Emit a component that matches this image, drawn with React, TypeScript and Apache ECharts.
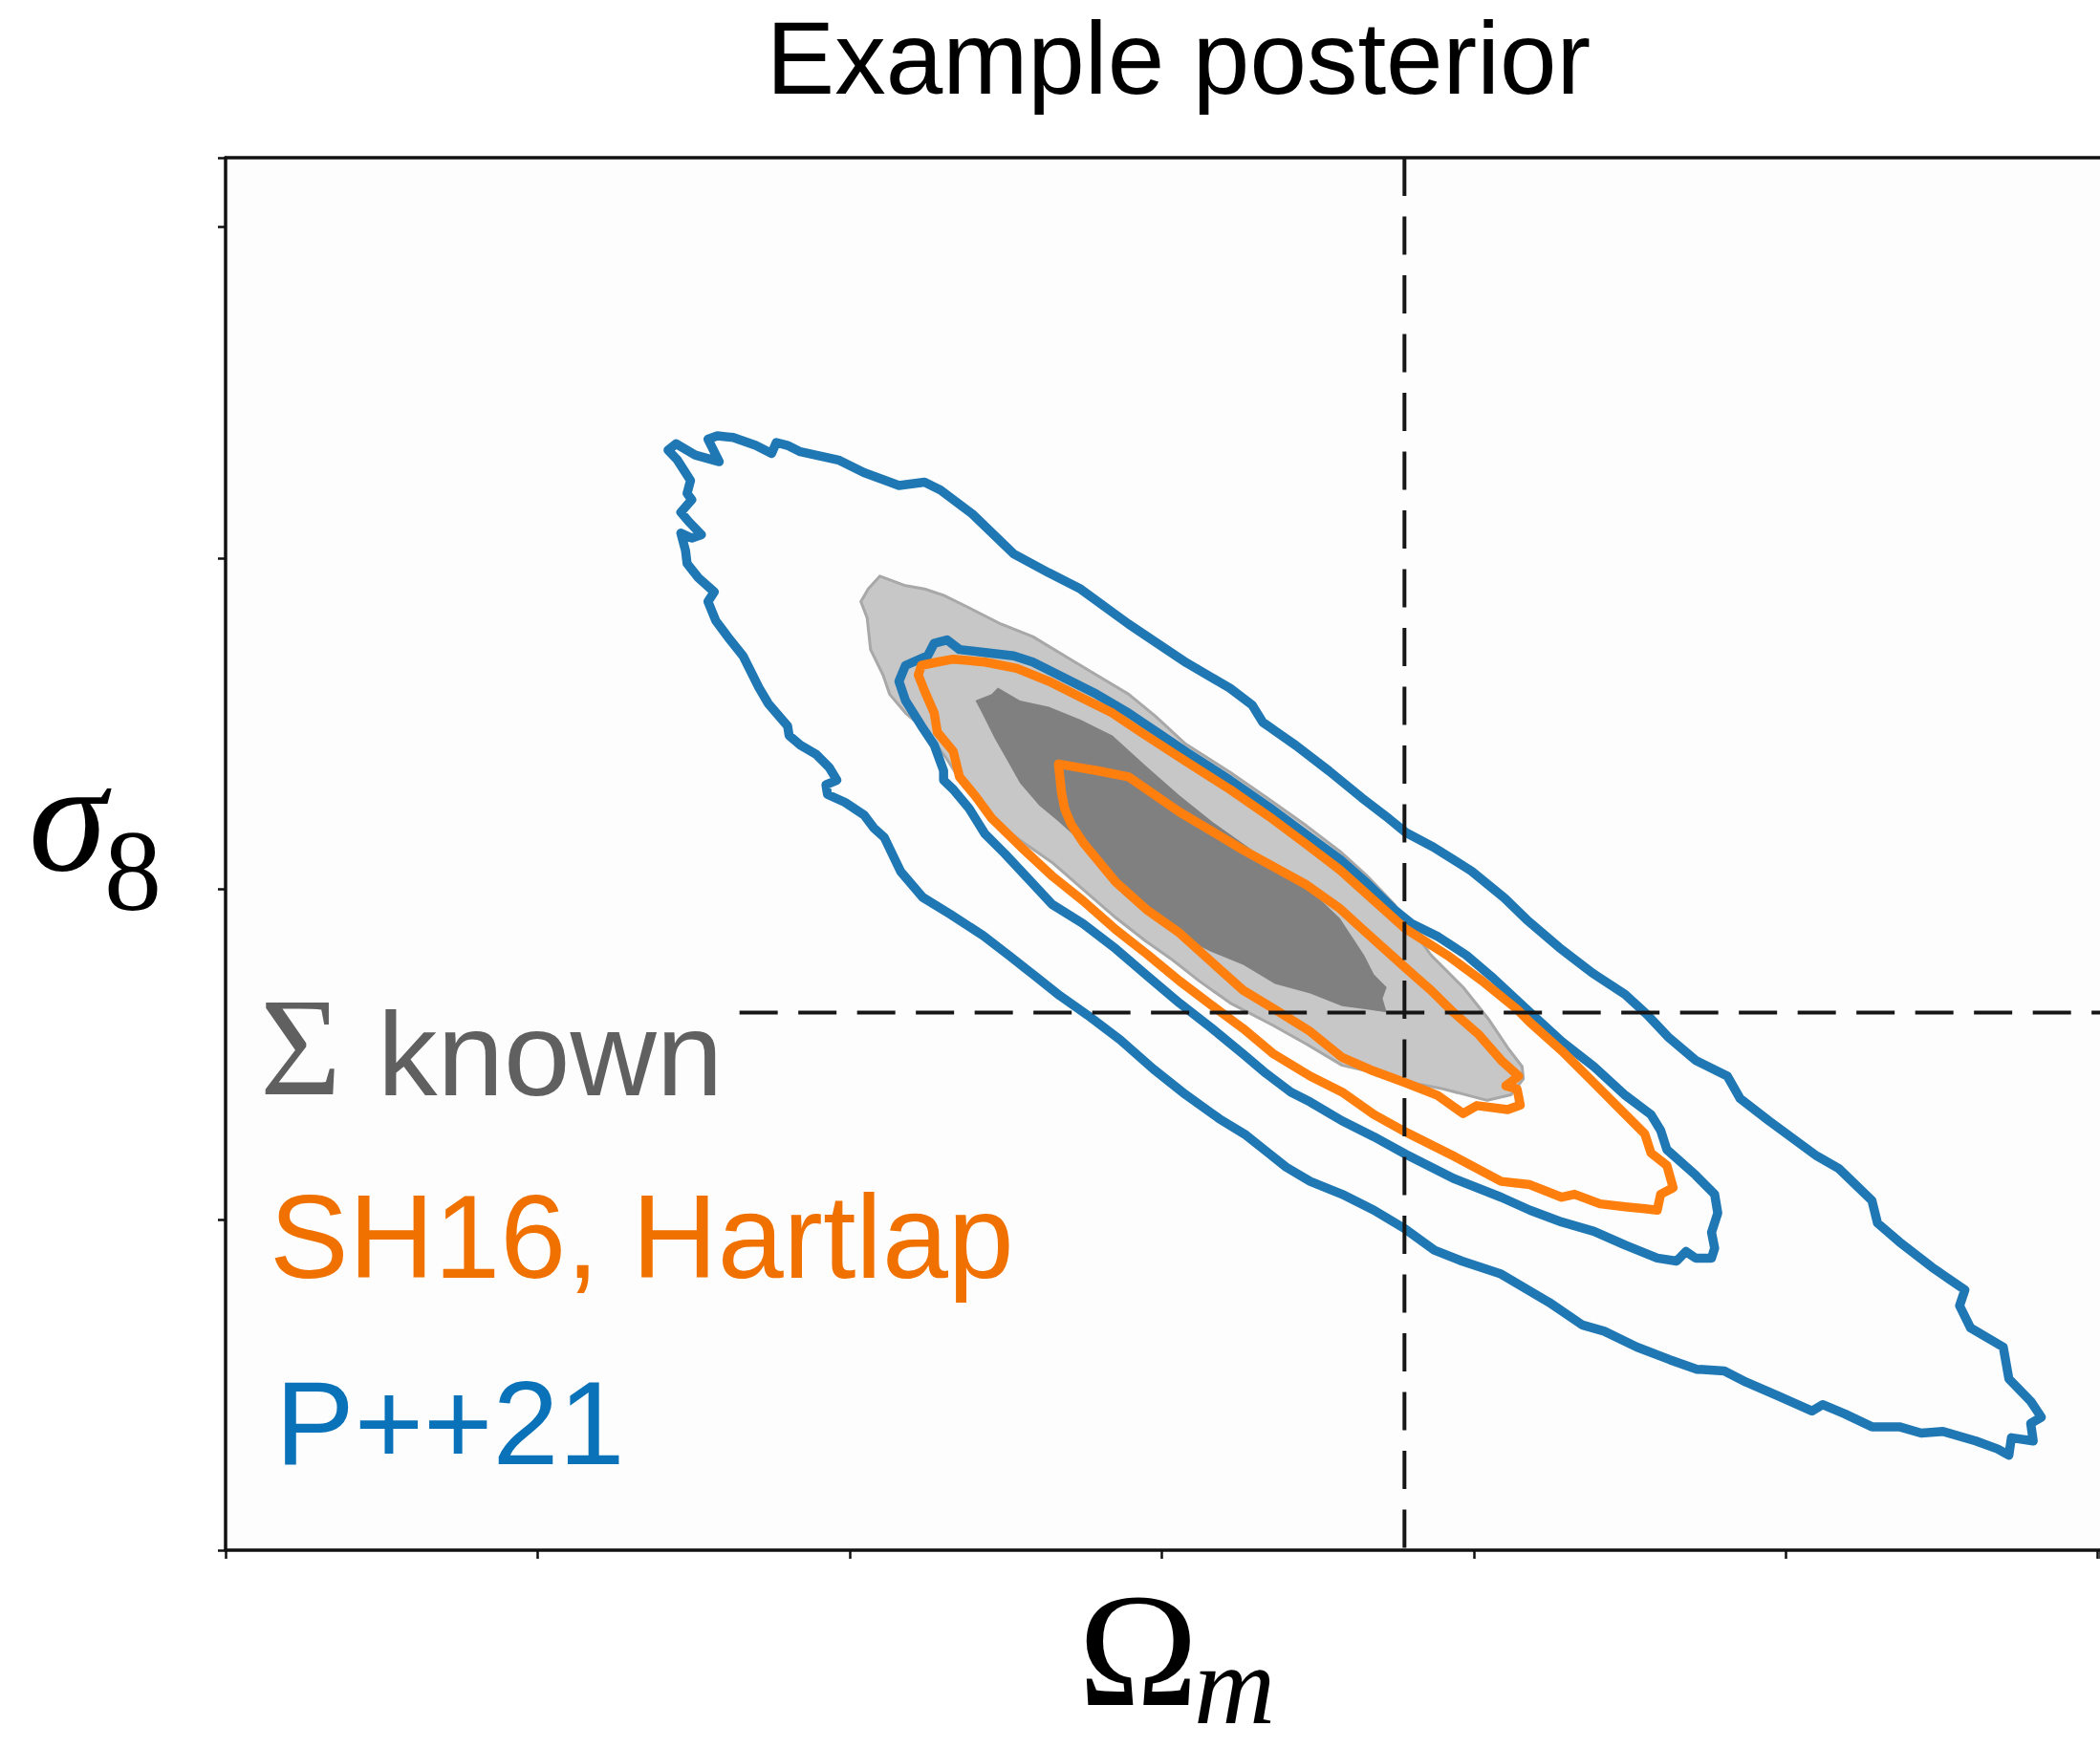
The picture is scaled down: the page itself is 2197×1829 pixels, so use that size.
import React, { useEffect, useRef } from "react";
import * as echarts from "echarts";

// Canvas size
const W = 2197;
const H = 1829;

// Axes are measured in major-tick units (tick labels are not shown)
const X_TICK_INTERVAL = 1;
const Y_TICK_INTERVAL = 1;
const X_MAX = 6.007;
const Y_MAX = 4.21;

// Fiducial parameter values (dashed cross-hair)
const TRUE_OMEGA_M = 3.778;
const TRUE_SIGMA_8 = 1.625;
const SIGMA8_LINE_START = 1.647;

// P++21 contours (outer = 2 sigma, inner = 1 sigma)
const BLUE_OUTER: number[][] = [
  [1.418, 3.326], [1.444, 3.345], [1.505, 3.311], [1.582, 3.291], [1.546, 3.359], [1.576, 3.369],
  [1.627, 3.364], [1.699, 3.34], [1.75, 3.316], [1.765, 3.349], [1.801, 3.34], [1.842, 3.321],
  [1.964, 3.296], [2.046, 3.258], [2.158, 3.219], [2.24, 3.229], [2.291, 3.205], [2.393, 3.133],
  [2.526, 3.012], [2.638, 2.955], [2.74, 2.906], [2.894, 2.8], [3.079, 2.683], [3.219, 2.606],
  [3.29, 2.555], [3.324, 2.503], [3.43, 2.433], [3.536, 2.356], [3.641, 2.275], [3.729, 2.211],
  [3.782, 2.17], [3.87, 2.126], [3.993, 2.053], [4.098, 1.972], [4.169, 1.907], [4.274, 1.822],
  [4.38, 1.745], [4.485, 1.68], [4.556, 1.619], [4.626, 1.549], [4.711, 1.481], [4.813, 1.433],
  [4.854, 1.365], [4.946, 1.298], [5.099, 1.192], [5.171, 1.153], [5.276, 1.057], [5.294, 0.989],
  [5.364, 0.932], [5.469, 0.855], [5.574, 0.787], [5.557, 0.739], [5.592, 0.672], [5.697, 0.614],
  [5.715, 0.518], [5.785, 0.45], [5.819, 0.402], [5.785, 0.383], [5.793, 0.33], [5.723, 0.34],
  [5.715, 0.287], [5.679, 0.306], [5.609, 0.33], [5.504, 0.359], [5.434, 0.354], [5.364, 0.373],
  [5.276, 0.373], [5.189, 0.412], [5.118, 0.44], [5.084, 0.421], [4.979, 0.465], [4.873, 0.508],
  [4.803, 0.542], [4.715, 0.547], [4.628, 0.576], [4.523, 0.614], [4.418, 0.662], [4.348, 0.681],
  [4.242, 0.749], [4.085, 0.836], [3.962, 0.874], [3.874, 0.907], [3.782, 0.97], [3.68, 1.028],
  [3.578, 1.076], [3.476, 1.115], [3.399, 1.158], [3.335, 1.206], [3.27, 1.255], [3.185, 1.304],
  [3.077, 1.377], [2.973, 1.455], [2.867, 1.543], [2.762, 1.618], [2.674, 1.676], [2.586, 1.742],
  [2.516, 1.794], [2.428, 1.858], [2.322, 1.923], [2.234, 1.974], [2.164, 2.051], [2.111, 2.155],
  [2.077, 2.184], [2.046, 2.223], [1.985, 2.261], [1.929, 2.285], [1.924, 2.314], [1.959, 2.328],
  [1.934, 2.367], [1.893, 2.406], [1.842, 2.434], [1.806, 2.463], [1.801, 2.492], [1.739, 2.56],
  [1.709, 2.608], [1.658, 2.704], [1.617, 2.752], [1.571, 2.81], [1.546, 2.868], [1.566, 2.897],
  [1.515, 2.94], [1.479, 2.983], [1.474, 3.022], [1.459, 3.075], [1.494, 3.06], [1.525, 3.07],
  [1.485, 3.109], [1.459, 3.138], [1.494, 3.176], [1.479, 3.195], [1.49, 3.234], [1.448, 3.296],
];

const BLUE_INNER: number[][] = [
  [2.158, 2.627], [2.179, 2.675], [2.25, 2.704], [2.271, 2.742], [2.312, 2.752], [2.352, 2.723],
  [2.434, 2.714], [2.526, 2.704], [2.587, 2.685], [2.689, 2.637], [2.791, 2.588], [2.894, 2.531],
  [3.079, 2.413], [3.219, 2.328], [3.343, 2.247], [3.465, 2.162], [3.571, 2.089], [3.659, 2.016],
  [3.747, 1.935], [3.8, 1.895], [3.887, 1.854], [3.976, 1.799], [4.063, 1.729], [4.18, 1.626],
  [4.282, 1.538], [4.385, 1.462], [4.486, 1.375], [4.568, 1.317], [4.599, 1.269], [4.619, 1.211],
  [4.711, 1.134], [4.772, 1.076], [4.782, 1.019], [4.762, 0.961], [4.772, 0.913], [4.762, 0.883],
  [4.711, 0.883], [4.68, 0.903], [4.65, 0.874], [4.588, 0.883], [4.486, 0.922], [4.385, 0.964],
  [4.282, 0.992], [4.18, 1.028], [4.088, 1.067], [3.935, 1.124], [3.782, 1.197], [3.68, 1.25],
  [3.578, 1.298], [3.476, 1.355], [3.414, 1.385], [3.335, 1.441], [3.261, 1.5], [3.159, 1.579],
  [3.057, 1.654], [2.953, 1.737], [2.853, 1.818], [2.747, 1.895], [2.648, 1.953], [2.586, 2.016],
  [2.498, 2.105], [2.434, 2.165], [2.383, 2.242], [2.332, 2.3], [2.301, 2.328], [2.301, 2.357],
  [2.271, 2.434], [2.23, 2.492], [2.179, 2.569],
];

// SH16 with Hartlap correction
const ORANGE_OUTER: number[][] = [
  [2.22, 2.646], [2.23, 2.675], [2.281, 2.685], [2.332, 2.694], [2.434, 2.685], [2.536, 2.666],
  [2.638, 2.627], [2.74, 2.579], [2.842, 2.531], [2.938, 2.47], [3.077, 2.385], [3.219, 2.3],
  [3.343, 2.219], [3.464, 2.134], [3.571, 2.057], [3.657, 1.984], [3.781, 1.879], [3.915, 1.799],
  [4.027, 1.721], [4.139, 1.635], [4.18, 1.596], [4.282, 1.51], [4.385, 1.413], [4.486, 1.317],
  [4.548, 1.259], [4.568, 1.201], [4.619, 1.163], [4.639, 1.096], [4.599, 1.076], [4.588, 1.028],
  [4.549, 1.032], [4.486, 1.038], [4.405, 1.047], [4.323, 1.076], [4.282, 1.067], [4.18, 1.105],
  [4.088, 1.115], [3.935, 1.192], [3.782, 1.264], [3.68, 1.317], [3.578, 1.385], [3.476, 1.433],
  [3.356, 1.502], [3.261, 1.577], [3.159, 1.648], [3.057, 1.721], [2.953, 1.802], [2.853, 1.876],
  [2.747, 1.964], [2.648, 2.039], [2.549, 2.126], [2.455, 2.213], [2.403, 2.28], [2.352, 2.338],
  [2.332, 2.415], [2.281, 2.473], [2.271, 2.531], [2.24, 2.598],
];

const ORANGE_INNER: number[][] = [
  [2.669, 2.377], [2.73, 2.367], [2.791, 2.357], [2.894, 2.338], [3.057, 2.232], [3.261, 2.117],
  [3.465, 2.011], [3.567, 1.943], [3.657, 1.866], [3.782, 1.76], [3.863, 1.693], [3.935, 1.626],
  [4.017, 1.558], [4.088, 1.481], [4.144, 1.433], [4.103, 1.404], [4.139, 1.394], [4.149, 1.346],
  [4.109, 1.332], [4.01, 1.344], [3.966, 1.32], [3.884, 1.375], [3.782, 1.413], [3.678, 1.449],
  [3.578, 1.49], [3.476, 1.568], [3.363, 1.635], [3.261, 1.693], [3.159, 1.779], [3.057, 1.866],
  [2.955, 1.934], [2.853, 2.02], [2.751, 2.136], [2.71, 2.194], [2.689, 2.242], [2.679, 2.29],
];

// Known-covariance reference posterior (filled)
const GRAY_OUTER: number[][] = [
  [2.097, 2.945], [2.179, 2.916], [2.24, 2.906], [2.301, 2.887], [2.383, 2.849], [2.485, 2.8],
  [2.587, 2.762], [2.689, 2.704], [2.791, 2.646], [2.894, 2.588], [2.979, 2.522], [3.077, 2.437],
  [3.219, 2.352], [3.343, 2.271], [3.464, 2.19], [3.571, 2.113], [3.657, 2.04], [3.747, 1.951],
  [3.863, 1.799], [3.966, 1.702], [4.047, 1.606], [4.109, 1.519], [4.155, 1.462], [4.159, 1.425],
  [4.12, 1.377], [4.043, 1.36], [3.904, 1.394], [3.782, 1.417], [3.657, 1.449], [3.578, 1.466],
  [3.464, 1.53], [3.356, 1.587], [3.22, 1.654], [3.12, 1.721], [3.034, 1.785], [2.948, 1.842],
  [2.853, 1.912], [2.755, 1.992], [2.648, 2.08], [2.541, 2.15], [2.455, 2.213], [2.403, 2.275],
  [2.352, 2.332], [2.305, 2.401], [2.24, 2.482], [2.179, 2.531], [2.128, 2.588], [2.107, 2.646],
  [2.067, 2.723], [2.056, 2.819], [2.036, 2.868], [2.06, 2.907],
];

const GRAY_INNER: number[][] = [
  [2.403, 2.569], [2.455, 2.588], [2.475, 2.608], [2.546, 2.569], [2.638, 2.55], [2.74, 2.511],
  [2.842, 2.463], [2.948, 2.372], [3.056, 2.283], [3.163, 2.202], [3.27, 2.13], [3.378, 2.057],
  [3.485, 1.988], [3.571, 1.911], [3.649, 1.799], [3.68, 1.741], [3.721, 1.702], [3.708, 1.668],
  [3.721, 1.626], [3.659, 1.635], [3.578, 1.645], [3.476, 1.683], [3.363, 1.712], [3.261, 1.77],
  [3.159, 1.809], [3.057, 1.857], [2.953, 1.939], [2.853, 2.028], [2.755, 2.13], [2.669, 2.203],
  [2.608, 2.251], [2.546, 2.319], [2.506, 2.386], [2.465, 2.454], [2.424, 2.531],
];

// Legend-style labels
const LABEL_KNOWN = "known";
const LABEL_SIGMA = "Σ";
const LABEL_SH16 = "SH16, Hartlap";
const LABEL_P21 = "P++21";
const TITLE = "Example posterior";

const SANS = '"Liberation Sans", Arial, Helvetica, sans-serif';
const SERIF = '"Liberation Serif", "Times New Roman", serif';

const BLUE = "#1f77b4";
const ORANGE = "#ff7f0e";
const CONTOUR_WIDTH = 9.5;

function contour(name: string, pts: number[][], style: any, z: number) {
  return {
    type: "custom",
    name,
    z,
    silent: true,
    coordinateSystem: "cartesian2d",
    xAxisIndex: 0,
    yAxisIndex: 0,
    data: [pts[0]],
    renderItem: (_params: any, api: any) => ({
      type: "polygon",
      shape: { points: pts.map((p) => api.coord(p)) },
      style,
    }),
  };
}

function label(text: string, x: number, y: number, size: number, family: string, fill: string, extra: any = {}) {
  const style: any = {
    text,
    fontSize: size,
    fontFamily: family,
    fill,
    align: extra.align || "left",
    textAlign: extra.align || "left",
    verticalAlign: "middle",
    textVerticalAlign: "middle",
    fontStyle: extra.fontStyle || "normal",
    fontWeight: "normal",
  };
  if (extra.lineHeight) style.lineHeight = extra.lineHeight;
  return { type: "text", x, y, silent: true, style };
}

const axisLineStyle = { color: "#111", width: 3.5 };
const dashStyle = { color: "#161616", width: 4, type: [40, 21.5] };

export default function App() {
  const ref = useRef<HTMLDivElement>(null);

  useEffect(() => {
    if (!ref.current) return;
    const chart = echarts.init(ref.current, undefined, { renderer: "svg" });

    const option: any = {
      animation: false,
      backgroundColor: "#ffffff",
      grid: {
        left: 236,
        top: 165,
        right: 0,
        bottom: 207,
        show: true,
        backgroundColor: "#fdfdfd",
        borderWidth: 0,
        containLabel: false,
      },
      xAxis: [
        {
          type: "value",
          position: "bottom",
          min: 0,
          max: X_MAX,
          interval: X_TICK_INTERVAL,
          axisLine: { show: true, onZero: false, lineStyle: axisLineStyle },
          axisTick: { show: true, inside: false, length: 9, lineStyle: { color: "#111", width: 2.5 } },
          axisLabel: { show: false },
          splitLine: { show: false },
        },
        {
          type: "value",
          position: "top",
          min: 0,
          max: X_MAX,
          interval: X_TICK_INTERVAL,
          axisLine: { show: true, onZero: false, lineStyle: axisLineStyle },
          axisTick: { show: false },
          axisLabel: { show: false },
          splitLine: { show: false },
        },
      ],
      yAxis: [
        {
          type: "value",
          position: "left",
          min: 0,
          max: Y_MAX,
          interval: Y_TICK_INTERVAL,
          axisLine: { show: true, onZero: false, lineStyle: axisLineStyle },
          axisTick: { show: true, inside: false, length: 8, lineStyle: { color: "#111", width: 2.5 } },
          axisLabel: { show: false },
          splitLine: { show: false },
        },
      ],
      series: [
        contour("Σ known 2σ", GRAY_OUTER, { fill: "#c7c7c7", stroke: "#a8a8a8", lineWidth: 3, lineJoin: "round" }, 1),
        contour("Σ known 1σ", GRAY_INNER, { fill: "#808080", stroke: "none" }, 2),
        contour("P++21 2σ", BLUE_OUTER, { fill: "none", stroke: BLUE, lineWidth: CONTOUR_WIDTH, lineJoin: "round" }, 3),
        contour("P++21 1σ", BLUE_INNER, { fill: "none", stroke: BLUE, lineWidth: CONTOUR_WIDTH, lineJoin: "round" }, 3),
        contour("SH16 2σ", ORANGE_OUTER, { fill: "none", stroke: ORANGE, lineWidth: CONTOUR_WIDTH, lineJoin: "round" }, 4),
        contour("SH16 1σ", ORANGE_INNER, { fill: "none", stroke: ORANGE, lineWidth: CONTOUR_WIDTH, lineJoin: "round" }, 4),
        {
          type: "line",
          name: "Ωm fiducial",
          z: 6,
          silent: true,
          showSymbol: false,
          symbol: "none",
          data: [
            [TRUE_OMEGA_M, Y_MAX],
            [TRUE_OMEGA_M, 0],
          ],
          lineStyle: dashStyle,
        },
        {
          type: "line",
          name: "σ8 fiducial",
          z: 6,
          silent: true,
          showSymbol: false,
          symbol: "none",
          data: [
            [SIGMA8_LINE_START, TRUE_SIGMA_8],
            [X_MAX, TRUE_SIGMA_8],
          ],
          lineStyle: dashStyle,
        },
      ],
      graphic: [
        label(TITLE, 1233, 61, 107, SANS, "#000", { align: "center" }),
        label(LABEL_SIGMA, 272, 1096, 146, SERIF, "#606060"),
        label(LABEL_KNOWN, 395, 1102, 125, SANS, "#606060"),
        label(LABEL_SH16, 282, 1294, 124, SANS, "#f07100"),
        label(LABEL_P21, 288, 1489, 124, SANS, "#0a72b8"),
        // axis titles
        label("σ", 30, 854, 165, SERIF, "#000", { fontStyle: "italic" }),
        label("8", 109, 911, 120, SERIF, "#000"),
        label("Ω", 1128, 1727, 169, SERIF, "#000"),
        label("m", 1249, 1763, 118, SERIF, "#000", { fontStyle: "italic", lineHeight: 80 }),
      ],
    };

    chart.setOption(option);
    return () => chart.dispose();
  }, []);

  return (
    <div
      ref={ref}
      style={{ position: "absolute", left: 0, top: 0, width: W, height: H, background: "#fff" }}
    />
  );
}
